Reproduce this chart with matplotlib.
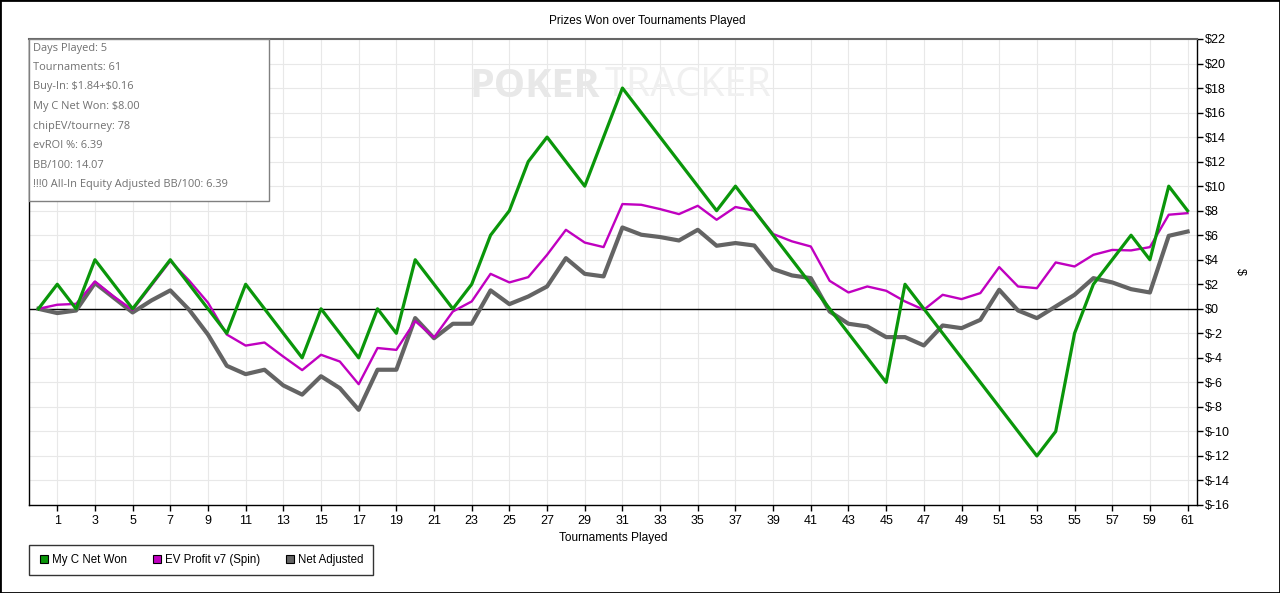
import numpy as np
import matplotlib
matplotlib.use("Agg")
import matplotlib.pyplot as plt
from matplotlib.lines import Line2D
from matplotlib.patches import Rectangle

plt.rcParams['font.family'] = ['Liberation Sans', 'DejaVu Sans']

# tournaments 0..61
tourneys = list(range(0, 62))

net_won = [0, 2, 0, 4, 2, 0, 2, 4, 2, 0,
           -2, 2, 0, -2, -4, 0, -2, -4, 0, -2,
           4, 2, 0, 2, 6, 8, 12, 14, 12, 10,
           14, 18, 16, 14, 12, 10, 8, 10, 8, 6,
           4, 2, 0, -2, -4, -6, 2, 0, -2, -4,
           -6, -8, -10, -12, -10, -2, 2, 4, 6, 4,
           10, 8]

ev_profit = [0, 0.33, 0.4, 2.23, 1.0, -0.1, 1.9, 3.9, 2.3, 0.5,
             -2.1, -3.0, -2.75, -3.9, -5.0, -3.75, -4.3, -6.15, -3.2, -3.35,
             -1.0, -2.34, -0.22, 0.6, 2.85, 2.15, 2.58, 4.4, 6.44, 5.4,
             5.03, 8.54, 8.48, 8.13, 7.72, 8.4, 7.26, 8.3, 8.0, 6.1,
             5.5, 5.08, 2.28, 1.33, 1.82, 1.47, 0.6, -0.08, 1.14, 0.79,
             1.28, 3.4, 1.82, 1.68, 3.78, 3.45, 4.4, 4.8, 4.76, 5.03,
             7.67, 7.8]

net_adjusted = [0, -0.35, -0.14, 2.1, 0.9, -0.3, 0.68, 1.5, -0.08, -2.1,
                -4.65, -5.33, -4.97, -6.25, -7.0, -5.5, -6.47, -8.24, -4.97, -4.97,
                -0.76, -2.4, -1.22, -1.22, 1.5, 0.38, 1.0, 1.82, 4.13, 2.85,
                2.64, 6.63, 6.04, 5.85, 5.57, 6.44, 5.14, 5.36, 5.16, 3.24,
                2.72, 2.5, -0.22, -1.22, -1.44, -2.31, -2.31, -2.99, -1.36, -1.58,
                -0.9, 1.55, -0.14, -0.76, 0.19, 1.14, 2.5, 2.15, 1.6, 1.33,
                5.95, 6.3]

series_names = ['My C Net Won', 'EV Profit v7 (Spin)', 'Net Adjusted']
series_colors = ['#0a960a', '#c000c0', '#646464']

info_lines = ['Days Played: 5', 'Tournaments: 61', r'Buy-In: \$1.84+\$0.16',
              r'My C Net Won: \$8.00', 'chipEV/tourney: 78', 'evROI %: 6.39',
              'BB/100: 14.07', '!!!0 All-In Equity Adjusted BB/100: 6.39']

x_ticks = list(range(1, 62, 2))
y_ticks = list(range(-16, 23, 2))

W, H = 1280, 593
fig = plt.figure(figsize=(W / 100, H / 100), dpi=100)
ax = fig.add_axes([29 / W, 1 - 505 / H, (1197 - 29) / W, (505 - 39) / H])

ax.plot(tourneys, net_adjusted, color=series_colors[2], lw=3.0, zorder=3)
ax.plot(tourneys, ev_profit, color=series_colors[1], lw=1.7, zorder=4)
ax.plot(tourneys, net_won, color=series_colors[0], lw=2.3, zorder=5)
ax.axhline(0, color='black', lw=1, zorder=2)

ax.set_xlim(-0.5, 61.5)
ax.set_ylim(-16, 22)
ax.set_xticks(x_ticks)
ax.set_yticks(y_ticks)
ax.set_yticklabels(['$%d' % v for v in y_ticks])
ax.yaxis.tick_right()
ax.yaxis.set_label_position('right')
ax.tick_params(axis='both', labelsize=9, length=4, width=1, direction='out', color='black')
ax.tick_params(axis='y', pad=2)
ax.grid(True, color='#e8e8e8', lw=0.8, zorder=0)
ax.set_axisbelow(True)

for s in ['left', 'bottom', 'right']:
    ax.spines[s].set_color('black')
    ax.spines[s].set_linewidth(1)
ax.spines['top'].set_color('#666666')
ax.spines['top'].set_linewidth(1.5)

ax.set_xlabel('Tournaments Played', fontsize=8.6, labelpad=3)
ax.set_ylabel('$', fontsize=9, rotation=-90, labelpad=11)
fig.text(647 / W, 1 - 21 / H, 'Prizes Won over Tournaments Played', fontsize=8.5,
         ha='center', va='center')

# watermark
ax.text(0.377, 0.899, 'POKER', transform=ax.transAxes, fontsize=28.5, fontweight='bold',
        color='#e8e8e8', ha='left', va='center', family='Open Sans', zorder=1)
ax.text(0.493, 0.899, 'TRACKER', transform=ax.transAxes, fontsize=28.5,
        color='#f0f0f0', ha='left', va='center', family='Open Sans', zorder=1)

# info box
box = Rectangle((29 / W, 1 - 201 / H), (269 - 29) / W, (201 - 39) / H, transform=fig.transFigure,
                facecolor='white', edgecolor='#808080', lw=1, zorder=10)
fig.patches.append(box)
for i, line in enumerate(info_lines):
    fig.text(33 / W, 1 - (48 + i * 19.5) / H, line, fontsize=7.9, color='#707070',
             family=['Open Sans', 'DejaVu Sans'], va='center', ha='left', zorder=11)

# legend
handles = [Line2D([], [], marker='s', linestyle='none', markersize=6,
                  markerfacecolor=c, markeredgecolor='black', markeredgewidth=0.8)
           for c in series_colors]
leg = fig.legend(handles, series_names, loc='lower left', bbox_to_anchor=(29 / W, 1 - 575 / H),
                 ncol=3, fontsize=8.3, frameon=True, fancybox=False, edgecolor='black',
                 handletextpad=0.2, columnspacing=2.1, borderpad=0.8, borderaxespad=0,
                 handlelength=1.0)
leg.get_frame().set_linewidth(1)

# outer border
fig.patches.append(Rectangle((0, 0), 1, 1, transform=fig.transFigure, fill=False,
                             edgecolor='black', lw=2))

fig.savefig('out.png', dpi=100)
